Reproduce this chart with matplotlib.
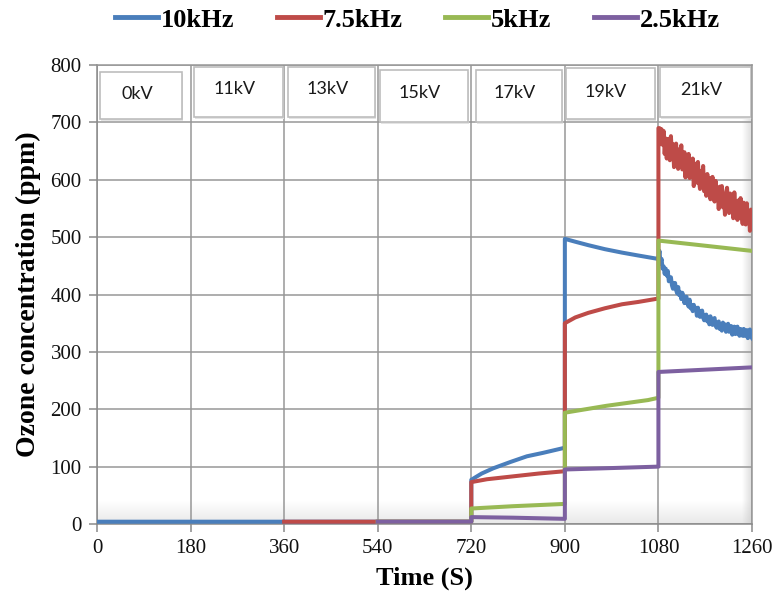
import matplotlib
matplotlib.use("Agg")
import matplotlib.pyplot as plt
import numpy as np
from matplotlib.patches import Rectangle

# ---- data -------------------------------------------------------------
series_names = ["10kHz", "7.5kHz", "5kHz", "2.5kHz"]
series_colors = ["#4A7EBB", "#BE4B48", "#98B954", "#7D60A0"]

# sampling times (2 s) of the 21 kV stage for the two noisy records
t21 = list(range(1080, 1261, 2))

blue_21kv = [462, 476, 454, 462, 445, 449, 436, 445, 433, 441, 423, 428, 430, 416,
             410, 420, 420, 408, 402, 413, 399, 404, 392, 403, 395, 385, 396, 396,
             384, 379, 391, 376, 381, 371, 382, 373, 377, 363, 377, 364, 361, 371,
             372, 360, 355, 363, 365, 353, 360, 348, 362, 352, 347, 357, 359, 346,
             342, 351, 353, 340, 347, 337, 351, 340, 348, 335, 345, 349, 335, 337,
             345, 330, 341, 344, 331, 332, 344, 334, 328, 340, 336, 328, 340, 328,
             330, 338, 324, 336, 339, 327, 324]

red_21kv = [690, 690, 662, 688, 661, 685, 645, 672, 637, 671, 659, 634, 676, 642,
            662, 622, 652, 663, 629, 619, 653, 640, 660, 618, 625, 648, 604, 636,
            621, 645, 603, 633, 607, 637, 589, 618, 628, 595, 631, 599, 584, 615,
            601, 624, 580, 603, 572, 610, 580, 603, 566, 589, 605, 568, 562, 598,
            570, 586, 549, 588, 569, 589, 552, 572, 539, 577, 586, 550, 542, 576,
            553, 569, 533, 578, 544, 561, 530, 564, 533, 568, 542, 523, 560, 547,
            522, 559, 526, 545, 511, 548, 522]

blue_time = [0, 720, 720, 740, 762, 795, 827, 858, 891, 900,
             900, 920, 945, 977, 1010, 1041, 1073] + t21
blue_val = [4, 4, 77, 88, 97, 108, 118, 124, 131, 133,
            497, 492, 486, 479, 473, 468, 463] + blue_21kv

red_time = [360, 720, 720, 750, 800, 850, 900,
            900, 920, 945, 977, 1010, 1041, 1080] + t21
red_val = [4, 4, 73, 78, 83, 88, 92,
           350, 360, 368, 376, 383, 387, 393] + red_21kv

green_time = [540, 720, 720, 760, 800, 850, 900,
              900, 940, 980, 1020, 1060, 1080,
              1080, 1120, 1160, 1200, 1240, 1260]
green_val = [4, 4, 27, 29, 31, 33, 35,
             194, 200, 206, 211, 216, 220,
             494, 490, 486, 482, 478, 476]

purple_time = [540, 720, 720, 800, 850, 900, 900, 1080, 1080, 1260]
purple_val = [4, 4, 12, 11, 10, 9, 95, 100, 265, 273]

x_ticks = [0, 180, 360, 540, 720, 900, 1080, 1260]
y_ticks = [0, 100, 200, 300, 400, 500, 600, 700, 800]

stage_labels = ["0kV", "11kV", "13kV", "15kV", "17kV", "19kV", "21kV"]
# label boxes: (left, right, bottom, top) in data units
stage_boxes = [(6, 164, 706, 788), (187, 358, 709, 797), (367, 535, 709, 797),
               (544, 714, 701, 791), (729, 895, 701, 791), (902, 1073, 706, 795),
               (1083, 1259, 709, 797)]
stage_text_y = [749, 758, 758, 751, 751, 753, 756]

# ---- figure -----------------------------------------------------------
serif = ["Liberation Serif", "DejaVu Serif"]
plt.rcParams["font.family"] = serif

fig = plt.figure(figsize=(7.8, 6.06), dpi=100)
ax = fig.add_axes([97 / 780, 1 - 524 / 606, 655 / 780, 459 / 606])

grid_col = "#979797"
ax.set_xlim(0, 1260)
ax.set_ylim(0, 800)
ax.set_xticks(x_ticks)
ax.set_yticks(y_ticks)
ax.set_axisbelow(True)
ax.grid(True, color=grid_col, lw=1.1)
for side in ["top", "right"]:
    ax.spines[side].set_color(grid_col)
    ax.spines[side].set_linewidth(1.1)
for side in ["left", "bottom"]:
    ax.spines[side].set_color("#8a8a8a")
    ax.spines[side].set_linewidth(1.1)
ax.tick_params(direction="out", length=6, width=1.1, color="#8a8a8a",
               labelsize=15, labelcolor="#111111", pad=5)

# soft shading along the bottom and right edges of the plot area
bottom_shade = np.zeros((50, 2, 4))
bottom_shade[..., :3] = 0.82
bottom_shade[..., 3] = np.linspace(0.5, 0.0, 50)[:, None]
ax.imshow(bottom_shade, extent=[0, 1, 0, 0.05], transform=ax.transAxes,
          origin="lower", aspect="auto", zorder=0.3, interpolation="bilinear")
right_shade = np.zeros((2, 50, 4))
right_shade[..., :3] = 0.78
right_shade[..., 3] = np.linspace(0.0, 0.6, 50)[None, :]
ax.imshow(right_shade, extent=[0.985, 1, 0, 1], transform=ax.transAxes,
          origin="lower", aspect="auto", zorder=0.3, interpolation="bilinear")
ax.set_xlim(0, 1260)
ax.set_ylim(0, 800)

# stage label boxes
for (x0, x1, y0, y1), lab, ty in zip(stage_boxes, stage_labels, stage_text_y):
    ax.add_patch(Rectangle((x0 + 2, y0 - 3), x1 - x0, y1 - y0, facecolor="#e4e4e4",
                           edgecolor="none", zorder=2))
    ax.add_patch(Rectangle((x0, y0), x1 - x0, y1 - y0, facecolor="white",
                           edgecolor="#bdbdbd", lw=1.2, zorder=2.1))
    ax.text(x0 + 0.45 * (x1 - x0), ty, lab, ha="center", va="center",
            fontsize=13, family=["Lato", "DejaVu Sans"], color="#1a1a1a", zorder=2.2)

# data lines
data = [(blue_time, blue_val), (red_time, red_val),
        (green_time, green_val), (purple_time, purple_val)]
for (t, v), name, col in zip(data, series_names, series_colors):
    ax.plot(t, v, color=col, lw=2.9, label=name, solid_joinstyle="round", zorder=3)

ax.set_xlabel("Time (S)", fontsize=19, fontweight="bold", labelpad=6)
ax.set_ylabel("Ozone concentration (ppm)", fontsize=20, fontweight="bold", labelpad=7)

handles, labels = ax.get_legend_handles_labels()
leg = fig.legend(handles, labels, loc="center", bbox_to_anchor=(0.535, 0.967),
                 ncol=4, frameon=False, handlelength=1.65, handletextpad=0.1,
                 columnspacing=1.6, prop={"family": serif, "weight": "bold", "size": 19})
for h in leg.get_lines():
    h.set_linewidth(3.5)

fig.savefig("out.png", dpi=100)
